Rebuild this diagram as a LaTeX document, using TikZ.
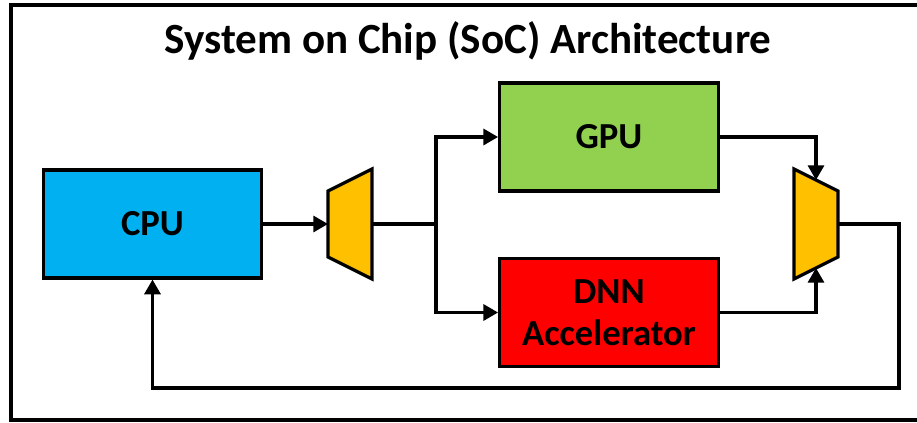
\documentclass[tikz,border=0pt]{standalone}
\usepackage{fontspec}
\setmainfont{Carlito}
\usetikzlibrary{arrows.meta}
\definecolor{cpucol}{HTML}{00B0F0}
\definecolor{gpucol}{HTML}{92D050}
\definecolor{dnncol}{HTML}{FF0000}
\definecolor{muxcol}{HTML}{FFC000}
\begin{document}
\begin{tikzpicture}[x=0.75pt,y=-0.75pt,
  blk/.style={draw=black,line width=2.4pt,minimum width=164pt,minimum height=81pt,inner sep=0pt,align=center,font=\fontsize{27.5}{31.5}\selectfont\bfseries},
  mux/.style={draw=black,line width=2.4pt,fill=muxcol,line join=miter},
  wire/.style={line width=2.4pt,line join=miter},
  arr/.style={wire,-{Triangle[length=11pt,width=12pt]}}]
\useasboundingbox (0,0) rectangle (917,422);
\draw[line width=2.6pt] (11,5) rectangle (925,420);
\node[font=\fontsize{32.3}{37}\selectfont\bfseries,anchor=base,inner sep=0pt] (title) at (468,53) {System on Chip (SoC) Architecture};
\node[blk,fill=cpucol] (cpu) at (152.5,224) {CPU};
\node[blk,fill=gpucol] (gpu) at (609,137) {GPU};
\node[blk,fill=dnncol] (dnn) at (609,312.5) {DNN\\Accelerator};
% mux 1
\draw[mux] (328,191) -- (372,169) -- (372,279) -- (328,257) -- cycle;
\coordinate (m1in) at (328,224);
\coordinate (m1out) at (372,224);
% mux 2
\draw[mux] (794,169) -- (838,191) -- (838,257) -- (794,279) -- cycle;
\coordinate (m2top) at (816,180);
\coordinate (m2bot) at (816,268);
\coordinate (m2out) at (838,224);
\coordinate (jn) at (436,224);
\coordinate (fbr) at (899,388);
\draw[arr] (cpu.east) -- (m1in);
\draw[wire] (m1out) -- (jn);
\draw[arr] (jn) |- (gpu.west);
\draw[arr] (jn) |- (dnn.west);
\draw[arr] (gpu.east) -| (m2top);
\draw[arr] (dnn.east) -| (m2bot);
\draw[arr] (m2out) -| (fbr) -| (cpu.south);
\end{tikzpicture}
\end{document}
